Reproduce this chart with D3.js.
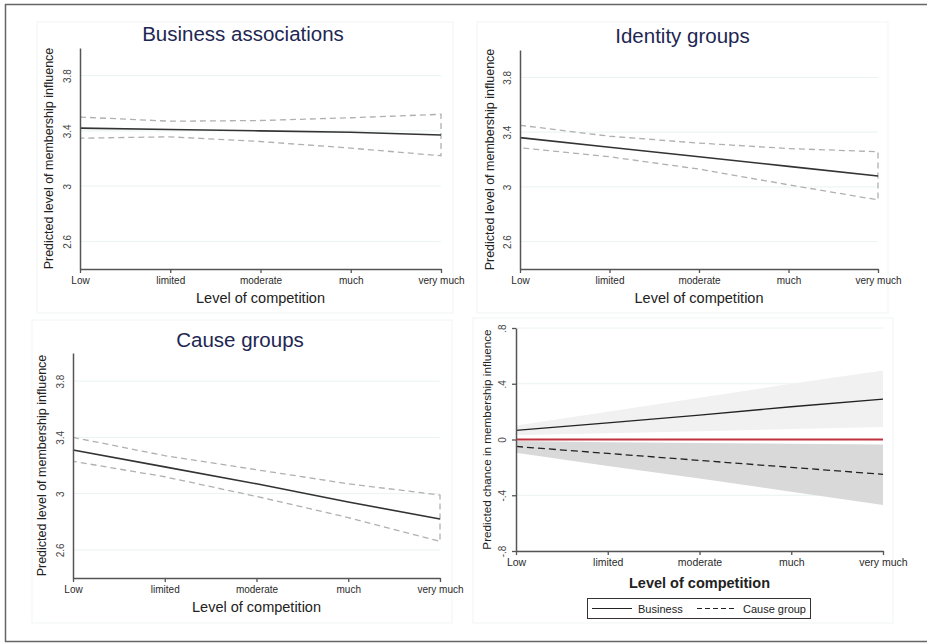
<!DOCTYPE html>
<html>
<head>
<meta charset="utf-8">
<script src="https://cdn.jsdelivr.net/npm/d3@7/dist/d3.min.js"></script>
<style>
  body { margin: 0; background: #fff; }
  svg { display: block; font-family: "Liberation Sans", Arial, sans-serif; }
</style>
</head>
<body>
<svg id="chart" width="927" height="643"></svg>
<script>
// categories on the x axis
var levels = ["Low", "limited", "moderate", "much", "very much"];

// Business associations (predicted level + 95% CI)
var bizMean  = [3.42, 3.41, 3.40, 3.39, 3.37];
var bizUpper = [3.50, 3.47, 3.475, 3.495, 3.52];
var bizLower = [3.347, 3.357, 3.323, 3.275, 3.22];

// Identity groups
var idMean  = [3.36, 3.29, 3.22, 3.15, 3.08];
var idUpper = [3.45, 3.37, 3.32, 3.28, 3.257];
var idLower = [3.286, 3.22, 3.13, 3.015, 2.905];

// Cause groups
var causeMean  = [3.31, 3.19, 3.07, 2.94, 2.82];
var causeUpper = [3.40, 3.27, 3.17, 3.07, 2.99];
var causeLower = [3.23, 3.12, 2.98, 2.83, 2.66];

// change in membership influence
var bizChange     = [0.065, 0.12, 0.175, 0.235, 0.29];
var bizChangeUp   = [0.10, 0.20, 0.30, 0.40, 0.495];
var bizChangeLo   = [0.03, 0.045, 0.06, 0.075, 0.09];
var causeChange   = [-0.05, -0.10, -0.15, -0.20, -0.25];
var causeChangeUp = [-0.01, -0.02, -0.025, -0.03, -0.035];
var causeChangeLo = [-0.095, -0.19, -0.28, -0.375, -0.47];

// tick labels
var levelTicks = [2.6, 3, 3.4, 3.8];
var levelTickLabels = ["2.6", "3", "3.4", "3.8"];
var changeTicks = [-0.8, -0.4, 0, 0.4, 0.8];
var changeTickLabels = ["-.8", "-.4", "0", ".4", ".8"];

var svg = d3.select("#chart");

// outer frame (top, left, bottom)
svg.append("path")
    .attr("d", "M927,4.5 L5.5,4.5 L5.5,641.5 L927,641.5")
    .attr("fill", "none")
    .attr("stroke", "#666")
    .attr("stroke-width", 1.5);

function drawPanel(p){
    var g = svg.append("g");

    g.append("rect")
        .attr("x", p.box[0]).attr("y", p.box[1])
        .attr("width", p.box[2] - p.box[0]).attr("height", p.box[3] - p.box[1])
        .attr("fill", "#fff").attr("stroke", "#f4f6f6").attr("stroke-width", 1.2);

    var x = d3.scalePoint().domain(levels).range([p.x0, p.x1]);
    var y = d3.scaleLinear().domain(p.yDomain).range([p.yBottom, p.yTop]);

    // gridlines
    g.selectAll(".grid").data(p.ticks).enter().append("line")
        .attr("x1", p.x0).attr("x2", p.x1)
        .attr("y1", function(d){ return y(d); })
        .attr("y2", function(d){ return y(d); })
        .attr("stroke", "#eaf2f2").attr("stroke-width", 1);

    var rows = levels.map(function(l, i){ return i; });

    if(p.bands){
        p.bands.forEach(function(b){
            var area = d3.area()
                .x(function(i){ return x(levels[i]); })
                .y0(function(i){ return y(b.lo[i]); })
                .y1(function(i){ return y(b.hi[i]); });
            g.append("path").datum(rows).attr("d", area).attr("fill", b.fill);
        });
    }

    if(p.zeroLine){
        g.append("line")
            .attr("x1", p.x0).attr("x2", p.x1)
            .attr("y1", y(0)).attr("y2", y(0))
            .attr("stroke", "#c2323e").attr("stroke-width", 2.2);
    }

    if(p.ci){
        // dashed outline of the confidence interval
        var pts = rows.map(function(i){ return [x(levels[i]), y(p.ci.hi[i])]; })
            .concat(rows.slice().reverse().map(function(i){ return [x(levels[i]), y(p.ci.lo[i])]; }));
        g.append("path")
            .attr("d", d3.line()(pts))
            .attr("fill", "none").attr("stroke", "#b0b0b0")
            .attr("stroke-width", 1.3).attr("stroke-dasharray", "6,4");
    }

    p.lines.forEach(function(s){
        var line = d3.line()
            .x(function(i){ return x(levels[i]); })
            .y(function(i){ return y(s.values[i]); });
        g.append("path").datum(rows).attr("d", line)
            .attr("fill", "none").attr("stroke", s.color)
            .attr("stroke-width", s.width)
            .attr("stroke-dasharray", s.dash || null);
    });

    // axes
    var xAxis = g.append("g")
        .attr("transform", "translate(0," + p.yBottom + ")")
        .call(d3.axisBottom(x).tickSize(4).tickSizeOuter(0));
    xAxis.select(".domain").attr("stroke", "#555").attr("stroke-width", 1.5);
    xAxis.selectAll(".tick line").attr("stroke", "#555").attr("stroke-width", 1.3);
    xAxis.selectAll(".tick text")
        .attr("font-size", p.tickFont).attr("fill", "#2a2a2a")
        .attr("y", 8).attr("dy", "0.71em");

    var yAxis = g.append("g")
        .attr("transform", "translate(" + p.x0 + ",0)")
        .call(d3.axisLeft(y).tickValues(p.ticks).tickSize(p.yTickSize).tickSizeOuter(0)
            .tickFormat(function(d, i){ return p.tickLabels[i]; }));
    yAxis.select(".domain").attr("stroke", "#555").attr("stroke-width", 1.5);
    yAxis.selectAll(".tick line").attr("stroke", "#555").attr("stroke-width", 1.3);
    yAxis.selectAll(".tick text")
        .attr("font-size", 10).attr("fill", "#444")
        .attr("text-anchor", "middle")
        .attr("x", 0).attr("dy", 0)
        .attr("transform", "translate(" + (p.yTickX - p.x0) + ",0) rotate(-90)");

    // titles
    if(p.title){
        g.append("text")
            .attr("x", (p.box[0] + p.box[2]) / 2 + p.titleShift).attr("y", p.titleY)
            .attr("text-anchor", "middle")
            .attr("font-size", 20.5).attr("fill", "#1e2752")
            .text(p.title);
    }

    g.append("text")
        .attr("x", (p.x0 + p.x1) / 2).attr("y", p.xTitleY)
        .attr("text-anchor", "middle")
        .attr("font-size", p.xTitleFont).attr("font-weight", p.xTitleWeight)
        .attr("fill", "#222")
        .text("Level of competition");

    g.append("text")
        .attr("transform", "translate(" + p.yTitleX + "," + (p.yTop + p.yBottom) / 2 + ") rotate(-90)")
        .attr("text-anchor", "middle")
        .attr("font-size", p.yTitleFont).attr("fill", "#222")
        .text(p.yTitle);

    return {g: g, x: x, y: y};
}

var common = {
    yDomain: [2.4, 4.0], ticks: levelTicks, tickLabels: levelTickLabels,
    yTickSize: 0, tickFont: 10, xTitleFont: 14.5, xTitleWeight: "normal",
    yTitle: "Predicted level of membership influence", yTitleFont: 12.5, titleShift: 0
};

drawPanel(Object.assign({}, common, {
    box: [37, 22, 453, 313], x0: 80, x1: 441, yTop: 48, yBottom: 269,
    title: "Business associations", titleY: 41, titleShift: -2,
    xTitleY: 303, yTickX: 71, yTitleX: 53,
    ci: {hi: bizUpper, lo: bizLower},
    lines: [{values: bizMean, color: "#333", width: 1.6}]
}));

drawPanel(Object.assign({}, common, {
    box: [477, 22, 888, 313], x0: 520, x1: 878, yTop: 50, yBottom: 269,
    title: "Identity groups", titleY: 43, titleShift: 0,
    xTitleY: 303, yTickX: 511, yTitleX: 494,
    ci: {hi: idUpper, lo: idLower},
    lines: [{values: idMean, color: "#333", width: 1.6}]
}));

drawPanel(Object.assign({}, common, {
    box: [32, 320, 452, 623], x0: 73, x1: 440, yTop: 353, yBottom: 578,
    title: "Cause groups", titleY: 347, titleShift: -2,
    xTitleY: 612, yTickX: 64, yTitleX: 46,
    ci: {hi: causeUpper, lo: causeLower},
    lines: [{values: causeMean, color: "#333", width: 1.6}]
}));

var p4 = drawPanel({
    box: [473, 318, 893, 623], x0: 516, x1: 883, yTop: 328, yBottom: 551,
    yDomain: [-0.8, 0.8], ticks: changeTicks, tickLabels: changeTickLabels,
    yTickSize: 4, tickFont: 10.5, xTitleFont: 14.5, xTitleWeight: "bold",
    yTitle: "Predicted chance in membership influence", yTitleFont: 11.7,
    xTitleY: 588, yTickX: 506, yTitleX: 491,
    bands: [{hi: bizChangeUp, lo: bizChangeLo, fill: "#f1f1f1"},
            {hi: causeChangeUp, lo: causeChangeLo, fill: "#d9d9d9"}],
    zeroLine: true,
    lines: [{values: bizChange, color: "#222", width: 1.3},
            {values: causeChange, color: "#222", width: 1.3, dash: "7,4"}]
});

// legend
var legend = svg.append("g");
legend.append("rect")
    .attr("x", 587.5).attr("y", 598.5).attr("width", 223).attr("height", 20)
    .attr("fill", "#fff").attr("stroke", "#333").attr("stroke-width", 1);
var legendItems = [
    {label: "Business", dash: null, x: 592},
    {label: "Cause group", dash: "5,3", x: 697}
];
legendItems.forEach(function(d){
    legend.append("line")
        .attr("x1", d.x).attr("x2", d.x + 40)
        .attr("y1", 608.5).attr("y2", 608.5)
        .attr("stroke", "#222").attr("stroke-width", 1.1)
        .attr("stroke-dasharray", d.dash);
    legend.append("text")
        .attr("x", d.x + 46).attr("y", 612.5)
        .attr("font-size", 11).attr("fill", "#222")
        .text(d.label);
});
</script>
</body>
</html>
